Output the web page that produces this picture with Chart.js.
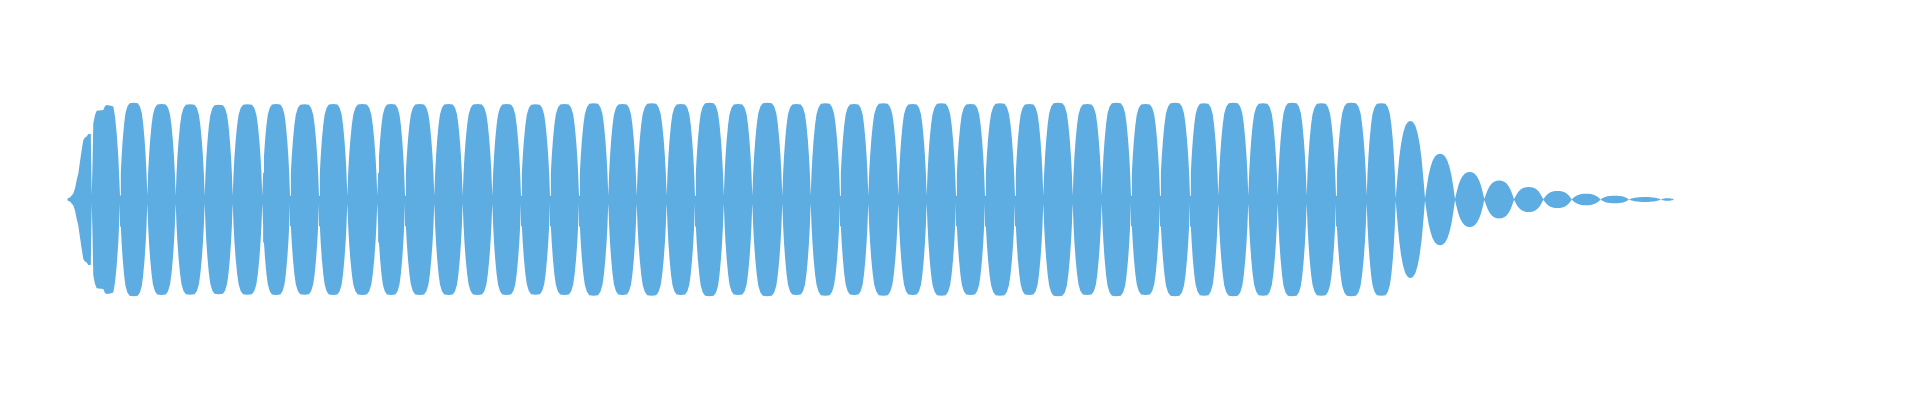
<!DOCTYPE html>
<html>
<head>
<meta charset="utf-8">
<script src="https://cdn.jsdelivr.net/npm/chart.js@4.4.0/dist/chart.umd.min.js"></script>
<style>
  html, body { margin: 0; padding: 0; background: #fff; }
  .wrap { width: 1920px; height: 400px; }
</style>
</head>
<body>
<div class="wrap"><canvas id="wave"></canvas></div>
<script>
// onset: ramp-up lobe and the uneven second lobe (column, peak amplitude)
const onsetX   = [67.3, 70, 73.3, 75, 76.7, 78.3, 80, 81.7, 83.3, 85, 86.7, 88.3, 90.8, 91.7,
                  92.4, 93.3, 95, 96.7, 103.3, 105, 106.7, 110, 113.3, 115, 116.7, 118.3, 119.3, 120];
const onsetAmp = [0.01, 0.02, 0.06, 0.11, 0.195, 0.26, 0.38, 0.495, 0.595, 0.62, 0.63, 0.655, 0.655, 0.04,
                  0.3, 0.76, 0.845, 0.888, 0.895, 0.935, 0.945, 0.94, 0.93, 0.83, 0.66, 0.43, 0.2, 0.04];

// zero crossings from the steady part through the fade out
const pinchX = [120, 147.3, 175.7, 204.7, 232.7, 262.3, 290, 319, 347.3, 377.3,
                405, 434.3, 462.7, 492.3, 521, 550, 579, 608.3, 636.7, 666.7,
                695, 723.8, 752.3, 782.3, 810.7, 840, 868.3, 898.3, 926.7, 956,
                985, 1015, 1043.3, 1072.7, 1101.7, 1131, 1160, 1190, 1218.3, 1248.3,
                1277.7, 1306.7, 1336, 1366.7, 1395.7, 1425, 1455, 1484.3, 1514, 1543.3,
                1571.7, 1600.5, 1629, 1661, 1674];

// peak of each lobe between two crossings
const lobePeak = [0.968, 0.955, 0.952, 0.948, 0.952, 0.955, 0.952, 0.955, 0.955, 0.955,
                  0.955, 0.955, 0.955, 0.955, 0.952, 0.955, 0.962, 0.955, 0.962, 0.955,
                  0.968, 0.955, 0.968, 0.955, 0.962, 0.955, 0.962, 0.955, 0.962, 0.955,
                  0.962, 0.955, 0.968, 0.955, 0.968, 0.955, 0.968, 0.962, 0.968, 0.962,
                  0.968, 0.962, 0.968, 0.962,
                  0.785, 0.458, 0.275, 0.19, 0.125, 0.085, 0.058, 0.038, 0.025, 0.012];

const fullT = [0, 0.03, 0.06, 0.1, 0.15, 0.2, 0.27, 0.35, 0.5, 0.65, 0.73, 0.8, 0.85, 0.9, 0.94, 0.97];
const fullA = [0.04, 0.28, 0.45, 0.62, 0.78, 0.89, 0.96, 0.995, 1, 0.995, 0.96, 0.89, 0.78, 0.62, 0.45, 0.28];
const tailT = [0, 0.04, 0.08, 0.12, 0.18, 0.25, 0.33, 0.42, 0.5, 0.58, 0.67, 0.75, 0.82, 0.88, 0.92, 0.96];
const tailA = [0.02, 0.2, 0.37, 0.53, 0.7, 0.84, 0.94, 0.99, 1, 0.99, 0.94, 0.84, 0.7, 0.53, 0.37, 0.2];

const WAVE = '#5dace2';

const upper = onsetX.map((x, i) => ({ x, y: onsetAmp[i] }));
lobePeak.forEach((peak, i) => {
  const x0 = pinchX[i];
  const w = pinchX[i + 1] - x0;
  const tail = peak < 0.9;
  const ts = tail ? tailT : fullT;
  const as = tail ? tailA : fullA;
  ts.forEach((t, j) => {
    if (i === 0 && j === 0) return; // already in onset
    upper.push({ x: x0 + t * w, y: peak * as[j] });
  });
});
upper.push({ x: pinchX[pinchX.length - 1], y: 0 });
const lower = upper.map(p => ({ x: p.x, y: -p.y }));

new Chart(document.getElementById('wave').getContext('2d'), {
  type: 'line',
  data: {
    datasets: [
      { data: upper, fill: '+1', backgroundColor: WAVE, borderColor: 'rgba(0,0,0,0)', borderWidth: 0, pointRadius: 0, tension: 0 },
      { data: lower, fill: false, borderColor: 'rgba(0,0,0,0)', borderWidth: 0, pointRadius: 0, tension: 0 },
    ],
  },
  options: {
    responsive: true,
    maintainAspectRatio: false,
    animation: false,
    layout: { padding: 0 },
    plugins: { legend: { display: false }, tooltip: { enabled: false } },
    scales: {
      x: { type: 'linear', min: 0, max: 1920, display: false },
      y: { min: -2.005, max: 1.995, display: false },
    },
  },
});
</script>
</body>
</html>
